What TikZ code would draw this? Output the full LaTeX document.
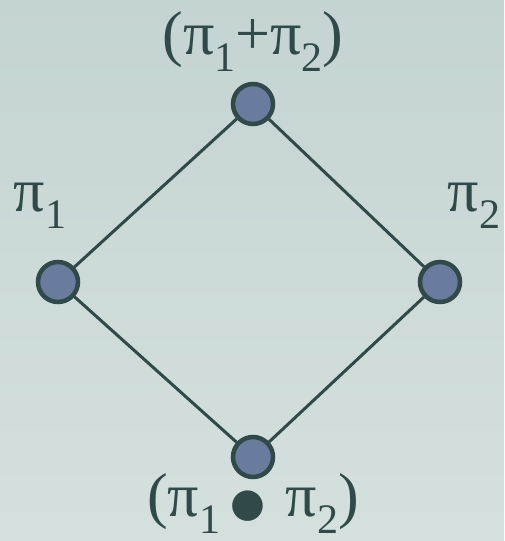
\documentclass[tikz,border=0pt]{standalone}
\usepackage{fontspec}
\setmainfont{Liberation Serif}
\newfontfamily\dotfont{DejaVu Sans}
\usepackage{tikz}
\usetikzlibrary{arrows,arrows.meta}

\definecolor{bgcol}{RGB}{196,212,210}
\definecolor{bglight}{RGB}{212,224,222}
\definecolor{inkcol}{RGB}{47,74,72}
\definecolor{dotcol}{RGB}{106,124,158}

\newcommand{\pisb}[1]{π\raisebox{-0.26em}{\fontsize{42}{44}\selectfont #1}}

\begin{document}
\begin{tikzpicture}[x=1pt,y=1pt,
vertex/.style={circle,draw=inkcol,line width=4.5pt,fill=dotcol,minimum size=40pt,inner sep=0pt},
lbl/.style={text=inkcol,font=\fontsize{62}{66}\selectfont,inner sep=0pt,anchor=base},
edge/.style={draw=inkcol,line width=3pt} ]

\shade[bottom color=bglight,top color=bgcol] (0,0) rectangle (504,541);
\useasboundingbox (0,0) rectangle (504,541);

\node[vertex](T) at (253,437) {};

\node[vertex](L) at (58,259) {};

\node[vertex](R) at (440,259) {};

\node[vertex](B) at (253,84) {};

\draw[edge] (T) -- (L);

\draw[edge] (T) -- (R);

\draw[edge] (L) -- (B);

\draw[edge] (R) -- (B);

\node[lbl](lt) at (253,486) {(\pisb{1}+\pisb{2})};

\node[lbl](ll) at (40,329) {\pisb{1}};

\node[lbl](lr) at (474,329) {\pisb{2}};

\node[lbl](lb) at (253,24) {(\pisb{1}\,{\dotfont\fontsize{40}{40}\selectfont ●}\,\,\pisb{2})};

\end{tikzpicture}
\end{document}
